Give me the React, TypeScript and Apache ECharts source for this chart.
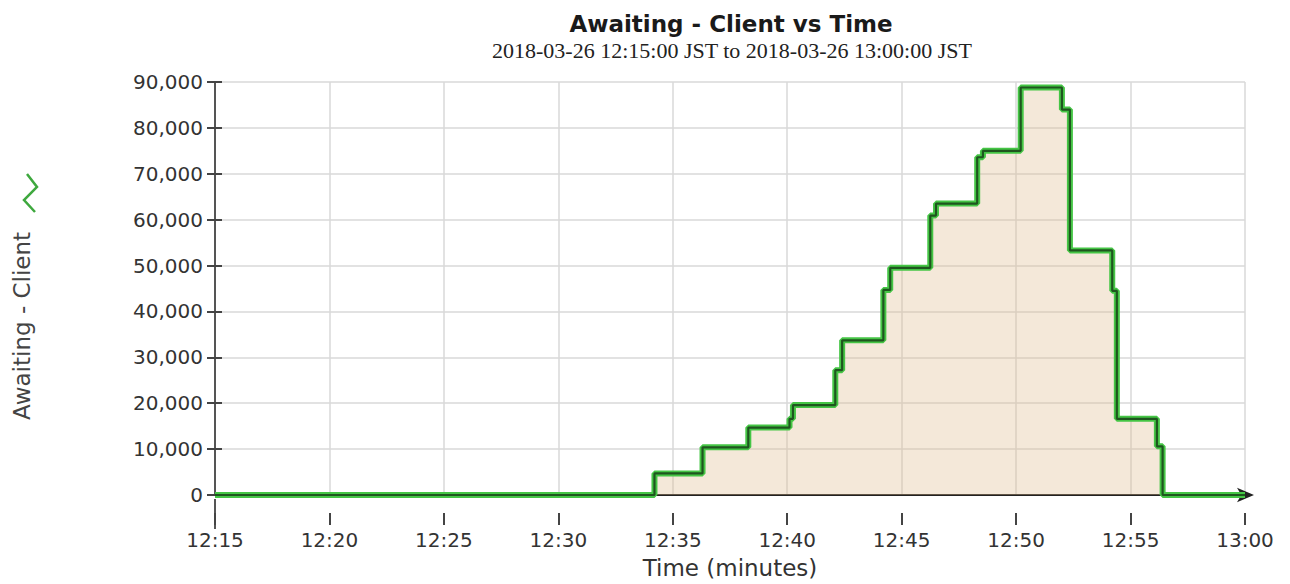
import React, { useEffect, useRef } from "react";
import * as echarts from "echarts";

// Minutes after 12:15 where the value changes, and the new value from that moment
const stepMinutes = [0, 19.2, 21.3, 23.3, 25.1, 25.25, 27.1, 27.4, 29.2, 29.5, 31.25, 31.5, 33.3, 33.55, 35.2, 37.0, 37.35, 39.2, 39.4, 41.15, 41.4, 45];
const awaitingClient = [0, 4700, 10400, 14700, 16600, 19600, 27200, 33700, 44700, 49500, 60900, 63500, 73600, 75000, 88800, 84000, 53300, 44500, 16600, 10600, 0, 0];

const timeTicks = ["12:15", "12:20", "12:25", "12:30", "12:35", "12:40", "12:45", "12:50", "12:55", "13:00"];

const titleText = "Awaiting - Client vs Time";
const subtitleText = "2018-03-26 12:15:00 JST to 2018-03-26 13:00:00 JST";
const yName = "Awaiting - Client";
const xName = "Time (minutes)";

const GRID = { left: 215, right: 45, top: 82, height: 417 };
const W = 1290;
const H = 584;

export default function App() {
  const ref = useRef<HTMLDivElement>(null);

  useEffect(() => {
    if (!ref.current) return;
    const chart = echarts.init(ref.current, undefined, { renderer: "svg" });
    const data = stepMinutes.map((m, i) => [m, awaitingClient[i]]);
    const sans = "DejaVu Sans";
    const plotCenterX = GRID.left + (W - GRID.left - GRID.right) / 2;
    const axisY = GRID.top + GRID.height;

    const option: any = {
      animation: false,
      backgroundColor: "#ffffff",
      grid: { left: GRID.left, right: GRID.right, top: GRID.top, height: GRID.height, containLabel: false },
      graphic: [
        {
          type: "text",
          x: plotCenterX + 1,
          y: 24,
          style: {
            text: titleText,
            fontFamily: sans,
            fontWeight: "bold",
            fontSize: 23,
            fill: "#1a1a1a",
            textAlign: "center",
            textVerticalAlign: "middle",
          },
        },
        {
          type: "text",
          x: plotCenterX + 2,
          y: 50,
          style: {
            text: subtitleText,
            fontFamily: "Liberation Serif",
            fontSize: 22,
            fill: "#222",
            textAlign: "center",
            textVerticalAlign: "middle",
          },
        },
        {
          type: "text",
          x: 22,
          y: 326,
          rotation: Math.PI / 2,
          style: {
            text: yName,
            fontFamily: sans,
            fontSize: 23,
            fill: "#444",
            textAlign: "center",
            textVerticalAlign: "middle",
          },
        },
        {
          type: "polyline",
          shape: { points: [[27, 174], [37, 187], [24, 200], [35, 212]] },
          style: { stroke: "#3ea83e", lineWidth: 2.5, fill: null },
        },
        {
          type: "line",
          shape: { x1: GRID.left, y1: axisY, x2: GRID.left, y2: axisY + 30 },
          style: { stroke: "#555", lineWidth: 2 },
        },
      ],
      xAxis: [
        {
          type: "value",
          min: 0,
          max: 45,
          interval: 5,
          position: "bottom",
          axisLine: {
            show: true,
            onZero: false,
            lineStyle: { color: "#222", width: 2 },
            symbol: ["none", "arrow"],
            symbolSize: [11, 17],
            symbolOffset: [0, 9],
          },
          axisTick: { show: false },
          axisLabel: { show: false },
          splitLine: { show: true, lineStyle: { color: "#d9d9d9", width: 1.5 } },
        },
        {
          type: "value",
          min: 0,
          max: 45,
          interval: 5,
          position: "bottom",
          offset: 18,
          axisLine: { show: false, onZero: false },
          axisTick: { show: true, length: 12, lineStyle: { color: "#444", width: 2 } },
          axisLabel: {
            show: true,
            margin: 17,
            fontFamily: sans,
            fontSize: 20,
            color: "#333",
            formatter: (v: number) => timeTicks[Math.round(v / 5)] ?? "",
          },
          splitLine: { show: false },
          name: xName,
          nameLocation: "middle",
          nameGap: 43,
          nameTextStyle: { fontFamily: sans, fontSize: 23, color: "#333" },
        },
      ],
      yAxis: [
        {
          type: "value",
          min: 0,
          max: 90000,
          interval: 10000,
          position: "left",
          axisLine: { show: true, onZero: false, lineStyle: { color: "#555", width: 2 } },
          axisTick: { show: true, length: 8, lineStyle: { color: "#444", width: 2 } },
          axisLabel: {
            margin: 12,
            fontFamily: sans,
            fontSize: 20,
            color: "#333",
            formatter: (v: number) => v.toLocaleString("en-US"),
          },
          splitLine: { show: true, lineStyle: { color: "#d9d9d9", width: 1.5 } },
        },
        {
          type: "value",
          min: 0,
          max: 90000,
          interval: 10000,
          position: "left",
          axisLine: { show: false },
          axisTick: { show: true, inside: true, length: 7, lineStyle: { color: "#444", width: 2 } },
          axisLabel: { show: false },
          splitLine: { show: false },
        },
      ],
      series: [
        {
          type: "line",
          name: yName,
          xAxisIndex: 0,
          yAxisIndex: 0,
          step: "end",
          data,
          symbol: "none",
          lineStyle: { color: "#45c545", width: 6 },
          areaStyle: { color: "rgba(222,186,142,0.48)", origin: "start" },
          z: 3,
        },
        {
          type: "line",
          name: yName + " mean",
          xAxisIndex: 0,
          yAxisIndex: 0,
          step: "end",
          data,
          symbol: "none",
          lineStyle: { color: "#1f551f", width: 2.2 },
          z: 4,
        },
      ],
    };

    chart.setOption(option);
    return () => chart.dispose();
  }, []);

  return (
    <div
      ref={ref}
      style={{ position: "fixed", left: 0, top: 0, width: W, height: H }}
    />
  );
}
